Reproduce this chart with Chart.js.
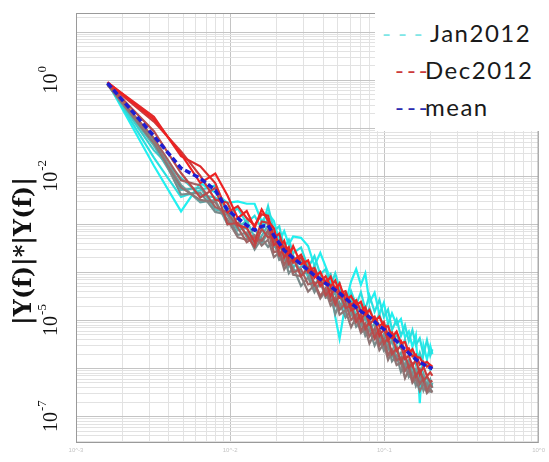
<!DOCTYPE html>
<html>
<head>
<meta charset="utf-8">
<script src="https://cdn.jsdelivr.net/npm/chart.js@4.4.1/dist/chart.umd.min.js"></script>
<style>
    html, body { margin: 0; padding: 0; background: #fff; }
    #wrap { position: relative; width: 549px; height: 462px; }
    #legendBox {
        position: absolute; left: 375px; top: 0; width: 174px; height: 131px;
        background: #fff; font-family: Lato, "Open Sans", sans-serif; font-size: 24px; color: #1a1a1a;
    }
    #legendBox span { position: absolute; height: 28px; line-height: 28px; white-space: nowrap; }
    #legendBox .name { letter-spacing: 1.5px; }
</style>
</head>
<body>
<div id="wrap">
    <canvas id="psdChart" width="549" height="462"></canvas>
    <div id="legendBox">
        <span style="left:7px;top:19px;color:#7fe6e6;letter-spacing:7px">---</span>
        <span class="name" style="left:55px;top:19px">Jan2012</span>
        <span style="left:20px;top:56px;color:#cc3a3a;letter-spacing:3px">---</span>
        <span class="name" style="left:50px;top:56px">Dec2012</span>
        <span style="left:20px;top:93px;color:#2a2ab0;letter-spacing:3px">---</span>
        <span class="name" style="left:50px;top:93px">mean</span>
    </div>
</div>
<script>
// frequency of each spectral point (harmonic k / 625)
const freq = [0.0016, 0.0032, 0.0048, 0.0064, 0.008, 0.0096, 0.0112, 0.0128, 0.0144, 0.016,
    0.0176, 0.0192, 0.0208, 0.0224, 0.024, 0.0256, 0.0288, 0.032, 0.0352, 0.0384,
    0.0416, 0.0448, 0.048, 0.0512, 0.056, 0.0608, 0.0656, 0.0704, 0.0752, 0.08,
    0.0864, 0.0928, 0.0992, 0.1056, 0.112, 0.12, 0.128, 0.136, 0.144, 0.152,
    0.16, 0.1696, 0.1792, 0.1888, 0.1984, 0.2048];

// log10 of |Y(f)|*|Y(f)| for each month
const janLog = [-0.04, -1.78, -2.73, -2.14, -2.34, -2.55, -2.52, -2.57, -2.57, -2.94,
    -2.77, -2.93, -3.34, -3.14, -3.42, -3.25, -3.28, -3.45, -3.86, -3.59,
    -3.88, -4.14, -4.92, -5.38, -4.64, -4.19, -3.93, -4.26, -4.02, -4.63,
    -4.42, -4.87, -4.63, -5.07, -4.85, -5.08, -4.97, -5.35, -5.23, -5.55,
    -5.31, -6.72, -5.51, -5.81, -5.53, -5.70];
const febLog = [-0.06, -1.61, -2.43, -2.29, -2.19, -2.80, -2.67, -2.97, -2.82, -3.09,
    -2.62, -3.13, -3.04, -3.49, -3.32, -3.60, -3.48, -3.90, -3.66, -4.04,
    -3.93, -4.29, -4.02, -4.33, -4.84, -4.39, -4.68, -4.41, -4.77, -4.48,
    -4.82, -4.57, -4.93, -4.77, -5.20, -4.98, -5.32, -5.10, -5.43, -5.20,
    -5.51, -5.37, -5.71, -5.41, -5.73, -5.60];
const marLog = [-0.07, -1.46, -2.03, -2.39, -2.44, -2.65, -3.07, -2.92, -3.27, -3.14,
    -2.87, -3.28, -3.19, -3.64, -3.47, -3.90, -3.73, -4.10, -3.86, -4.24,
    -4.18, -4.04, -4.42, -4.23, -4.69, -4.54, -4.93, -4.66, -4.97, -4.73,
    -5.07, -4.87, -5.18, -5.07, -5.45, -5.28, -5.57, -5.40, -5.68, -5.60,
    -5.91, -5.67, -5.91, -5.86, -6.03, -5.95];
const aprLog = [-0.08, -1.36, -2.28, -2.24, -2.69, -2.75, -3.12, -3.07, -3.42, -3.24,
    -3.02, -3.48, -3.34, -3.74, -3.62, -4.00, -3.88, -3.80, -4.26, -4.09,
    -4.48, -4.29, -4.67, -4.48, -4.79, -4.64, -5.03, -4.91, -5.22, -4.98,
    -5.32, -5.22, -5.53, -5.42, -5.75, -5.53, -5.87, -5.75, -6.13, -5.95,
    -6.21, -6.02, -6.31, -6.16, -6.43, -6.30];
const mayLog = [-0.09, -1.26, -2.18, -2.54, -2.49, -3.00, -2.87, -3.27, -3.07, -3.39,
    -3.17, -3.28, -3.69, -3.54, -3.87, -3.65, -4.03, -4.00, -4.36, -4.24,
    -4.18, -4.54, -4.42, -4.73, -4.54, -4.89, -4.68, -5.11, -4.92, -5.18,
    -5.07, -5.47, -5.28, -5.57, -5.40, -5.78, -5.67, -6.00, -5.83, -6.10,
    -6.01, -6.32, -6.11, -6.36, -6.23, -6.40];
const junLog = [-0.10, -1.21, -2.38, -2.34, -2.74, -2.80, -3.22, -3.17, -3.52, -3.29,
    -3.47, -3.33, -3.74, -3.69, -4.02, -3.90, -4.28, -4.10, -4.41, -4.19,
    -4.53, -4.49, -4.87, -4.63, -4.94, -4.79, -5.13, -5.01, -5.32, -5.18,
    -5.52, -5.32, -5.63, -5.52, -5.85, -5.73, -6.07, -5.90, -6.18, -6.10,
    -6.36, -6.17, -6.46, -6.31, -6.48, -6.45];
const julLog = [-0.09, -1.31, -2.23, -2.49, -2.54, -2.90, -3.27, -3.32, -3.22, -3.44,
    -3.32, -3.68, -3.59, -3.94, -3.77, -4.05, -4.08, -4.40, -4.26, -4.54,
    -4.38, -4.69, -4.57, -4.88, -4.79, -5.14, -4.93, -5.26, -5.17, -5.48,
    -5.27, -5.62, -5.48, -5.82, -5.65, -5.93, -5.87, -6.20, -6.03, -6.30,
    -6.21, -6.47, -6.31, -6.51, -6.43, -6.50];
const augLog = [-0.08, -1.21, -2.08, -2.19, -2.64, -2.75, -3.07, -3.37, -3.27, -3.34,
    -3.12, -3.58, -3.54, -3.84, -3.67, -4.00, -3.93, -4.25, -4.21, -4.49,
    -4.33, -4.59, -4.52, -4.78, -4.64, -4.99, -4.88, -5.21, -5.07, -5.33,
    -5.17, -5.52, -5.38, -5.72, -5.60, -5.83, -5.77, -6.05, -5.93, -6.25,
    -6.11, -6.32, -6.21, -6.46, -6.33, -6.40];
const sepLog = [-0.07, -1.06, -1.93, -2.44, -2.24, -3.00, -2.97, -3.22, -3.47, -3.09,
    -3.27, -3.23, -3.64, -3.49, -3.82, -3.70, -4.08, -3.90, -4.26, -4.14,
    -4.48, -4.34, -4.67, -4.43, -4.74, -4.69, -5.03, -4.86, -5.17, -5.03,
    -5.37, -5.17, -5.48, -5.37, -5.70, -5.58, -5.87, -5.70, -5.98, -5.90,
    -6.16, -6.02, -6.26, -6.16, -6.28, -6.25];
const octLog = [-0.06, -0.86, -1.48, -1.99, -2.49, -2.55, -3.02, -3.07, -3.37, -2.94,
    -2.97, -3.43, -3.34, -3.69, -3.52, -3.80, -3.68, -4.00, -3.96, -4.29,
    -4.18, -4.49, -4.32, -4.53, -4.44, -4.79, -4.73, -5.01, -4.82, -5.08,
    -4.97, -5.32, -5.18, -5.42, -5.30, -5.63, -5.52, -5.80, -5.73, -5.95,
    -5.81, -6.12, -5.96, -6.16, -6.08, -6.15];
const novLog = [-0.05, -0.76, -1.58, -1.79, -2.14, -2.75, -2.62, -2.87, -3.02, -2.79,
    -2.82, -3.28, -3.19, -3.54, -3.47, -3.75, -3.63, -3.95, -3.91, -4.19,
    -4.08, -4.29, -4.17, -4.43, -4.39, -4.69, -4.58, -4.81, -4.72, -4.98,
    -4.92, -5.12, -5.03, -5.32, -5.25, -5.43, -5.42, -5.65, -5.58, -5.75,
    -5.71, -5.92, -5.86, -5.96, -5.93, -6.00];
const decLog = [-0.04, -0.81, -1.53, -2.14, -1.94, -2.40, -2.87, -2.72, -3.07, -2.69,
    -2.92, -3.08, -3.49, -3.34, -3.67, -3.45, -3.83, -3.75, -4.11, -3.99,
    -4.23, -4.09, -4.37, -4.23, -4.59, -4.49, -4.68, -4.61, -4.87, -4.78,
    -5.02, -4.92, -5.13, -5.12, -5.35, -5.23, -5.47, -5.45, -5.68, -5.60,
    -5.76, -5.77, -5.91, -5.86, -5.93, -5.95];
const meanLog = [-0.06, -1.16, -1.83, -2.04, -2.29, -2.70, -2.87, -3.02, -3.12, -3.04,
    -3.02, -3.23, -3.39, -3.54, -3.62, -3.70, -3.83, -3.95, -4.06, -4.14,
    -4.23, -4.29, -4.37, -4.43, -4.54, -4.64, -4.73, -4.81, -4.87, -4.93,
    -5.02, -5.12, -5.18, -5.27, -5.35, -5.43, -5.52, -5.60, -5.68, -5.75,
    -5.81, -5.87, -5.91, -5.96, -5.98, -6.00];

const monthNames = ["Jan2012", "Feb2012", "Mar2012", "Apr2012", "May2012", "Jun2012",
    "Jul2012", "Aug2012", "Sep2012", "Oct2012", "Nov2012", "Dec2012"];
const monthSeries = [janLog, febLog, marLog, aprLog, mayLog, junLog,
    julLog, augLog, sepLog, octLog, novLog, decLog];
const monthColors = ["#22f0f0", "#2ae0e0", "#3ccccc", "#52b6b6", "#66a2a2", "#7a8c8c",
    "#8e7676", "#a26262", "#b84c4c", "#cc3a3a", "#de2c2c", "#ee2222"];

const yLabelPowers = [0, -2, -5, -7];
const xLabelPowers = [-3, -2, -1, 0];

function toPoints(logValues) {
    return logValues.map((v, i) => ({ x: freq[i], y: Math.pow(10, v) }));
}

function logGridTicks(lo, hi) {
    const ticks = [];
    for (let p = Math.floor(Math.log10(lo)); p <= Math.ceil(Math.log10(hi)); p++) {
        for (let m = 1; m < 10; m++) {
            const v = m * Math.pow(10, p);
            if (v >= lo * 0.999 && v <= hi * 1.001) ticks.push({ value: v });
        }
    }
    return ticks;
}

function isDecade(v) {
    const l = Math.log10(v);
    return Math.abs(l - Math.round(l)) < 1e-6;
}

function gridColor(ctx) {
    return ctx.tick && isDecade(ctx.tick.value) ? "#c4c4c4" : "#e2e2e2";
}

const Y_MIN = Math.pow(10, -7.55);
const Y_MAX = Math.pow(10, 1.4);

const datasets = monthSeries.map((s, i) => ({
    label: monthNames[i],
    data: toPoints(s),
    borderColor: monthColors[i],
    borderWidth: 2.2,
    pointRadius: 0,
    tension: 0,
    order: 12 - i,
}));
datasets.push({
    label: "mean",
    data: toPoints(meanLog),
    borderColor: "#1e1ed2",
    borderWidth: 3.5,
    borderDash: [6, 3],
    pointRadius: 0,
    tension: 0,
    order: 0,
});

const axisText = {
    id: "axisText",
    afterDraw(chart) {
        const { ctx, chartArea, scales } = chart;
        ctx.save();
        ctx.strokeStyle = "#9a9a9a";
        ctx.lineWidth = 1;
        ctx.strokeRect(chartArea.left + 0.5, chartArea.top + 0.5,
            chartArea.right - chartArea.left - 1, chartArea.bottom - chartArea.top - 1);

        ctx.fillStyle = "#111";
        ctx.textBaseline = "middle";
        ctx.textAlign = "left";
        yLabelPowers.forEach((p) => {
            const y = scales.y.getPixelForValue(Math.pow(10, p));
            const exp = String(p);
            ctx.save();
            ctx.translate(52, y);
            ctx.rotate(-Math.PI / 2);
            ctx.font = '20px "Liberation Serif"';
            const wBase = ctx.measureText("10").width;
            ctx.font = '13px "Liberation Serif"';
            const wExp = ctx.measureText(exp).width;
            const x0 = -(wBase + wExp) / 2;
            ctx.font = '20px "Liberation Serif"';
            ctx.fillText("10", x0, 0);
            ctx.font = '13px "Liberation Serif"';
            ctx.fillText(exp, x0 + wBase + 1, -9);
            ctx.restore();
        });

        ctx.translate(25, (chartArea.top + chartArea.bottom) / 2 + 23);
        ctx.rotate(-Math.PI / 2);
        ctx.textAlign = "center";
        ctx.font = 'bold 24px "DejaVu Serif"';
        ctx.fillText("|Y(f)|*|Y(f)|", 0, 0);
        ctx.restore();
    },
};

new Chart(document.getElementById("psdChart"), {
    type: "line",
    data: { datasets: datasets },
    options: {
        responsive: false,
        animation: false,
        devicePixelRatio: 1,
        layout: { padding: { top: 13, right: 4, left: 0, bottom: 0 } },
        plugins: {
            legend: { display: false },
            tooltip: { enabled: false },
        },
        scales: {
            x: {
                type: "logarithmic",
                min: 0.001,
                max: 1,
                afterBuildTicks: (scale) => { scale.ticks = logGridTicks(0.001, 1); },
                afterFit: (scale) => { scale.height = 19; },
                grid: { color: gridColor, drawTicks: false },
                border: { display: false },
                ticks: {
                    autoSkip: false,
                    maxRotation: 0,
                    padding: 4,
                    color: "#c4c4c4",
                    font: { size: 6 },
                    callback: (v) => {
                        const p = Math.round(Math.log10(v));
                        return isDecade(v) && xLabelPowers.includes(p) ? "10^" + p : "";
                    },
                },
            },
            y: {
                type: "logarithmic",
                min: Y_MIN,
                max: Y_MAX,
                afterBuildTicks: (scale) => { scale.ticks = logGridTicks(Y_MIN, Y_MAX); },
                afterFit: (scale) => { scale.width = 76; },
                grid: { color: gridColor, drawTicks: false },
                border: { display: false },
                ticks: { display: false, autoSkip: false },
            },
        },
    },
    plugins: [axisText],
});
</script>
</body>
</html>
